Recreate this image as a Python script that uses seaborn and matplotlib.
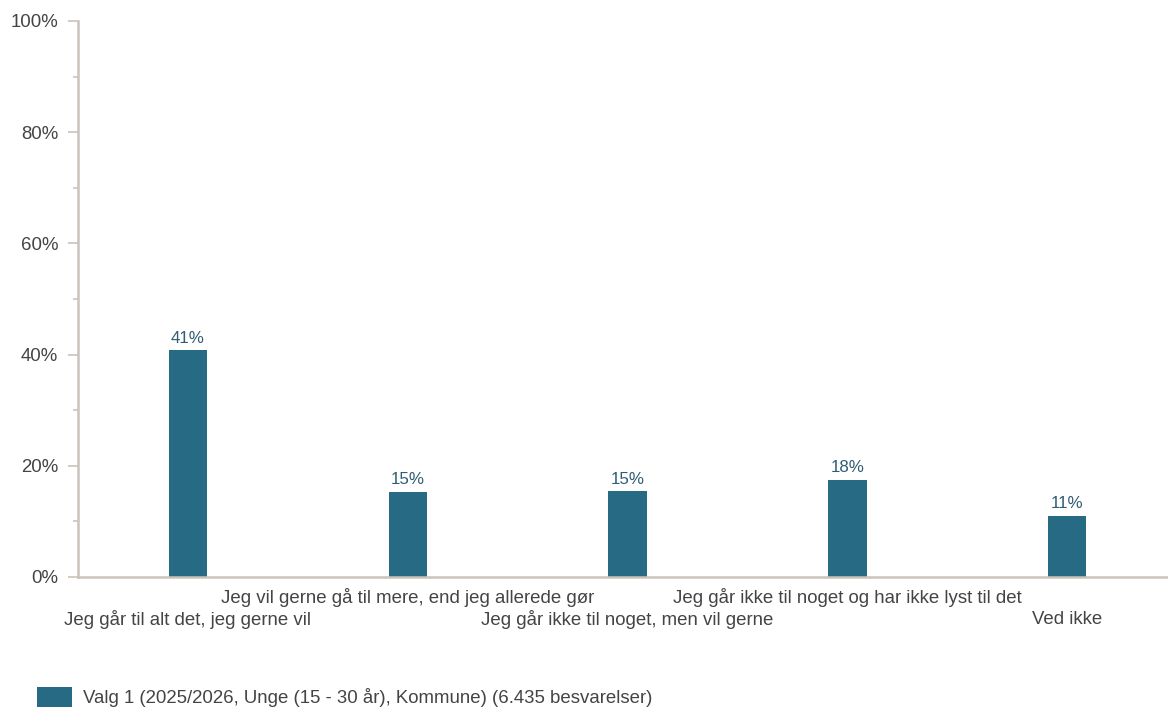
import matplotlib
matplotlib.use("Agg")
import matplotlib.pyplot as plt
from matplotlib.patches import Patch
from matplotlib.ticker import MultipleLocator, PercentFormatter
import pandas as pd
import seaborn as sns

categories = [
    "Jeg går til alt det, jeg gerne vil",
    "Jeg vil gerne gå til mere, end jeg allerede gør",
    "Jeg går ikke til noget, men vil gerne",
    "Jeg går ikke til noget og har ikke lyst til det",
    "Ved ikke",
]
values = [40.8, 15.3, 15.4, 17.5, 11.0]
series_name = "Valg 1 (2025/2026, Unge (15 - 30 år), Kommune) (6.435 besvarelser)"

bar_color = "#276a83"
axis_color = "#cbc3bb"
text_color = "#444444"

sns.set_style("white")
plt.rcParams["font.family"] = ["Liberation Sans", "DejaVu Sans"]

df = pd.DataFrame({"cat": categories, "val": values})

fig = plt.figure(figsize=(11.68, 7.07), dpi=100)
# plot area runs slightly past the right edge of the image, as in the source
ax = fig.add_axes([0.0668, 0.1839, 0.941, 0.7865])
sns.barplot(data=df, x="cat", y="val", color=bar_color, width=0.175,
            saturation=1, linewidth=0, ax=ax)

ax.set_ylim(0, 100)
ax.set_xlim(-0.5, len(categories) - 0.5)
ax.yaxis.set_major_locator(MultipleLocator(20))
ax.yaxis.set_minor_locator(MultipleLocator(10))
ax.yaxis.set_major_formatter(PercentFormatter(decimals=0))
ax.tick_params(axis="y", which="major", left=True, length=7.2, width=1.2, color=axis_color,
               labelsize=13.4, labelcolor=text_color, pad=7)
ax.tick_params(axis="y", which="minor", left=True, length=3.6, width=1.2, color=axis_color)
ax.tick_params(axis="x", length=0, labelsize=13.4, labelcolor=text_color)

for s in ["top", "right"]:
    ax.spines[s].set_visible(False)
for s in ["left", "bottom"]:
    ax.spines[s].set_color(axis_color)
    ax.spines[s].set_linewidth(1.8)

# staggered category labels
ax.set_xticks(range(len(categories)))
ax.set_xticklabels([])
for i, c in enumerate(categories):
    y_off = -30.5 if i % 2 == 0 else -14.5
    ax.annotate(c, xy=(i, 0), xytext=(0, y_off), textcoords="offset points",
                ha="center", va="center", fontsize=13.4, color=text_color,
                annotation_clip=False)

for i, v in enumerate(values):
    ax.annotate(f"{round(v):.0f}%", xy=(i, v), xytext=(0, 8.6), textcoords="offset points",
                ha="center", va="center", fontsize=12.2, color="#2f5d73")

ax.set_xlabel("")
ax.set_ylabel("")

handle = Patch(facecolor=bar_color, edgecolor="none")
fig.legend([handle], [series_name], loc="lower left", bbox_to_anchor=(37 / 1168, 0.0),
           frameon=False, fontsize=13.4, handlelength=1.88, handleheight=1.25,
           labelcolor=text_color, handletextpad=0.6, borderpad=0, borderaxespad=0)

fig.savefig("out.png", dpi=100)
